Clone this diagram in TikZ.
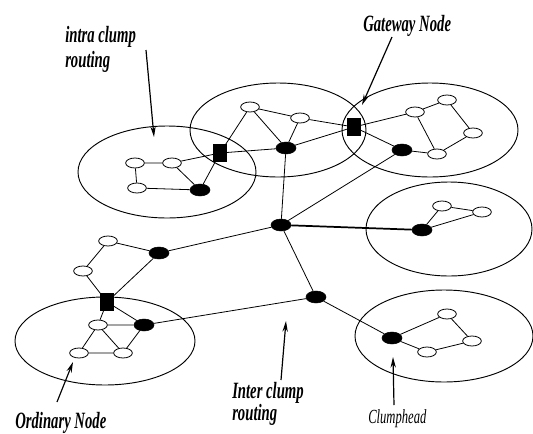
\documentclass[tikz,border=0pt]{standalone}
\usepackage{fontspec}
\setmainfont{Liberation Serif}
\usepackage{graphicx}
\usetikzlibrary{shapes.geometric,arrows.meta}
\newcommand{\narrow}[1]{\scalebox{0.63}[1]{#1}}

\begin{document}
\begin{tikzpicture}[x=0.75pt,y=0.75pt,yscale=-1,xscale=1,
  clump/.style={line width=0.7pt},
  ordnode/.style={ellipse,draw,fill=white,line width=0.6pt,minimum width=14pt,minimum height=7.5pt,inner sep=0pt},
  headnode/.style={ellipse,draw,fill=black,minimum width=15pt,minimum height=9pt,inner sep=0pt},
  gatenode/.style={rectangle,draw,fill=black,minimum width=10pt,minimum height=12.5pt,inner sep=0pt},
  link/.style={line width=0.6pt},
  callout/.style={line width=0.9pt,-{Stealth[length=8pt,width=4pt]}},
  lbl/.style={anchor=base west,inner sep=0pt,font=\fontsize{17.5}{20}\selectfont\bfseries\itshape}]
\useasboundingbox (0,0) rectangle (533,433);

%Clumps
\draw[clump] (167,172) ellipse [x radius=66.75pt, y radius=34.5pt];
\draw[clump] (278,130) ellipse [x radius=66pt, y radius=35.25pt];
\draw[clump] (430,130) ellipse [x radius=66pt, y radius=35.25pt];
\draw[clump] (449,229) ellipse [x radius=62.25pt, y radius=35.25pt];
\draw[clump] (444,336) ellipse [x radius=66.75pt, y radius=34.5pt];
\draw[clump] (105,341) ellipse [x radius=67.5pt, y radius=33pt];

%Top left clump
\node[ordnode] (oA1) at (135,163) {};
\node[ordnode] (oA2) at (172,163) {};
\node[ordnode] (oA3) at (137,188) {};
\node[headnode] (chA) at (200,190) {};
\node[gatenode] (gwA) at (220,153) {};

%Top middle clump
\node[ordnode] (oB1) at (250,107) {};
\node[ordnode] (oB2) at (300,118) {};
\node[headnode] (chB) at (286,148) {};
\node[gatenode] (gwB) at (354,127) {};

%Top right clump
\node[ordnode] (oC1) at (415,112) {};
\node[ordnode] (oC2) at (447,100) {};
\node[ordnode] (oC3) at (473,133) {};
\node[ordnode] (oC4) at (437,154) {};
\node[headnode] (chC) at (402,150) {};

%Centre
\node[headnode] (hub) at (281,225) {};
\node[headnode] (hubB) at (316,297) {};
\node[headnode] (chE) at (159,253) {};

%Right middle clump
\node[headnode] (chD) at (422,230) {};
\node[ordnode] (oD1) at (442,206) {};
\node[ordnode] (oD2) at (482,212) {};

%Bottom left clump
\node[ordnode] (oE1) at (108,241) {};
\node[ordnode] (oE2) at (83,271) {};
\node[gatenode] (gwE) at (107,302) {};
\node[ordnode] (oE3) at (98,325) {};
\node[headnode] (chF) at (144,325) {};
\node[ordnode] (oE4) at (79,353) {};
\node[ordnode] (oE5) at (123,353) {};

%Bottom right clump
\node[headnode] (chG) at (392,338) {};
\node[ordnode] (oG1) at (447,314) {};
\node[ordnode] (oG2) at (472,341) {};
\node[ordnode] (oG3) at (427,352) {};

%Links
\draw[link] (oA1) -- (oA2) (oA1) -- (oA3) (oA3) -- (chA) (oA2) -- (chA)
  (oA2) -- (gwA) (gwA) -- (chA) (gwA) -- (oB1) (gwA) -- (chB);
\draw[link] (oB1) -- (oB2) (oB2) -- (gwB) (oB1) -- (chB) (oB2) -- (chB)
  (chB) -- (gwB) (chB) -- (hub);
\draw[link] (gwB) -- (oC1) (oC1) -- (oC2) (oC2) -- (oC3) (oC3) -- (oC4)
  (oC1) -- (oC4) (chC) -- (oC4) (gwB) -- (chC) (chC) -- (hub);
\draw[line width=1.3pt] (hub) -- (chD);
\draw[link] (chD) -- (oD1) (oD1) -- (oD2) (oD2) -- (chD);
\draw[link] (hub) -- (chE) (chE) -- (oE1) (oE1) -- (oE2) (oE2) -- (gwE)
  (chE) -- (gwE) (gwE) -- (oE3) (gwE) -- (chF) (oE3) -- (chF)
  (oE3) -- (oE4) (oE3) -- (oE5) (oE4) -- (oE5) (chF) -- (oE5);
\draw[link] (chF) -- (hubB) (hub) -- (hubB) (hubB) -- (chG);
\draw[link] (chG) -- (oG1) (oG1) -- (oG2) (oG2) -- (oG3) (oG3) -- (chG);

%Callouts
\coordinate (intraT) at (146,50);
\coordinate (intraH) at (154,137);
\coordinate (gateT) at (392,37);
\coordinate (gateH) at (362,105);
\coordinate (ordT) at (57,402);
\coordinate (ordH) at (73,362);
\coordinate (interT) at (281,380);
\coordinate (interH) at (286,321);
\coordinate (headT) at (394,405);
\coordinate (headH) at (393,357);
\draw[callout] (intraT) -- (intraH);
\draw[callout] (gateT) -- (gateH);
\draw[callout] (ordT) -- (ordH);
\draw[callout] (interT) -- (interH);
\draw[callout] (headT) -- (headH);

%Labels
\node[lbl] (intraA) at (65,42) {\narrow{intra clump}};
\node[lbl] (intraB) at (65,67) {\narrow{routing}};
\node[lbl] (gate) at (363,31) {\narrow{Gateway Node}};
\node[lbl] (ord) at (15,428) {\narrow{Ordinary Node}};
\node[lbl] (interA) at (232,398) {\narrow{Inter clump}};
\node[lbl] (interB) at (232,420) {\narrow{routing}};
\node[lbl,font=\fontsize{15}{17}\selectfont\itshape] (head) at (368,423) {\narrow{Clumphead}};

\end{tikzpicture}
\end{document}
